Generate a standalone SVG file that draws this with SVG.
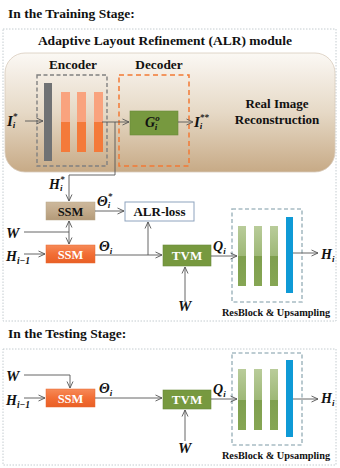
<svg xmlns="http://www.w3.org/2000/svg" width="340" height="468" viewBox="0 0 340 468">
<defs>
<style>
.ttl{font-family:"Liberation Serif","Times New Roman",serif;font-weight:bold;font-size:13.5px;fill:#111}
.lbl{font-family:"Liberation Serif","Times New Roman",serif;font-weight:bold;fill:#111}
.m{font-family:"Liberation Serif","Times New Roman",serif;font-weight:bold;font-style:italic;fill:#111}
.wt{font-family:"Liberation Serif","Times New Roman",serif;font-weight:bold;fill:#fff}
.ln{stroke:#555;stroke-width:0.9;fill:none}
.frame{fill:none;stroke:#c4ccd0;stroke-width:1;stroke-dasharray:1.5 1.5}
.rb{fill:none;stroke:#a8bcc4;stroke-width:1.6;stroke-dasharray:4 2.5}
</style>
<marker id="ah" viewBox="0 0 8 8" refX="7.5" refY="4" markerWidth="8" markerHeight="8" markerUnits="userSpaceOnUse" orient="auto-start-reverse">
<polyline points="1,1 7.5,4 1,7" fill="none" stroke="#555" stroke-width="0.9"/>
</marker>
<linearGradient id="bg" x1="0" y1="0" x2="0" y2="1">
<stop offset="0" stop-color="#fbf8f4"/>
<stop offset="0.5" stop-color="#e6d9c6"/>
<stop offset="1" stop-color="#c7aa86"/>
</linearGradient>
<linearGradient id="or" x1="0" y1="0" x2="0" y2="1">
<stop offset="0" stop-color="#f9a37e"/>
<stop offset="0.5" stop-color="#f9a37e"/>
<stop offset="0.5" stop-color="#f47a3a"/>
<stop offset="1" stop-color="#f47a3a"/>
</linearGradient>
<linearGradient id="gr" x1="0" y1="0" x2="0" y2="1">
<stop offset="0" stop-color="#b9cc9a"/>
<stop offset="0.5" stop-color="#9eb877"/>
<stop offset="0.5" stop-color="#7f9f4e"/>
<stop offset="1" stop-color="#86a654"/>
</linearGradient>
<linearGradient id="ssmT" x1="0" y1="0" x2="0" y2="1">
<stop offset="0" stop-color="#cdb89c"/>
<stop offset="0.5" stop-color="#c2ab8c"/>
<stop offset="1" stop-color="#b39a78"/>
</linearGradient>
<linearGradient id="ssmO" x1="0" y1="0" x2="0" y2="1">
<stop offset="0" stop-color="#f68a58"/>
<stop offset="0.5" stop-color="#f26e35"/>
<stop offset="1" stop-color="#e95f25"/>
</linearGradient>
</defs>

<!-- Training stage -->
<text class="ttl" x="8" y="18">In the Training Stage:</text>
<rect class="frame" x="3" y="29" width="333" height="292"/>
<text class="lbl" x="165" y="45" font-size="13.5" text-anchor="middle">Adaptive Layout  Refinement (ALR) module</text>

<g id="alr-module">
<rect x="5" y="53" width="330" height="119" rx="20" fill="url(#bg)" stroke="#d8ccbc" stroke-width="0.8"/>
<text class="lbl" x="73" y="69" font-size="13.3" text-anchor="middle">Encoder</text>
<text class="lbl" x="159" y="69" font-size="13.3" text-anchor="middle">Decoder</text>
<text class="lbl" x="277" y="108" font-size="13" text-anchor="middle">Real Image</text>
<text class="lbl" x="277" y="124" font-size="13" text-anchor="middle">Reconstruction</text>
</g>

<g id="encoder">
<rect x="37" y="75" width="70" height="91" fill="none" stroke="#808080" stroke-width="1.4" stroke-dasharray="4 2.5"/>
<rect x="44" y="83" width="8" height="78" fill="#707274"/>
<rect x="61" y="92" width="9" height="60" fill="url(#or)"/>
<rect x="77" y="92" width="9" height="60" fill="url(#or)"/>
<rect x="94" y="92" width="9" height="60" fill="url(#or)"/>
</g>

<g id="decoder">
<rect x="119" y="75" width="70" height="91" fill="none" stroke="#f27a35" stroke-width="1.5" stroke-dasharray="5 3.5"/>
<rect x="130" y="111" width="48" height="24" fill="#77993f" stroke="#6a8a3a" stroke-width="0.6"/>
<text class="m" x="145" y="127" font-size="14">G<tspan font-size="9" dy="-6">o</tspan><tspan font-size="9" dx="-5" dy="9">i</tspan></text>
</g>

<g id="ssm-top">
<rect x="46" y="202" width="49" height="18" fill="url(#ssmT)" stroke="#b8a688" stroke-width="0.5"/>
<text class="lbl" x="70.5" y="215.5" font-size="12.5" text-anchor="middle" fill="#4a3d30">SSM</text>
</g>
<g id="alr-loss">
<rect x="125" y="202" width="69" height="19" fill="#fff" stroke="#8ea3be" stroke-width="1"/>
<text class="lbl" x="159.5" y="216" font-size="13" text-anchor="middle">ALR-loss</text>
</g>
<g id="ssm-1">
<rect x="46" y="245" width="49" height="18" fill="url(#ssmO)" stroke="#e66a30" stroke-width="0.5"/>
<text class="wt" x="70.5" y="258.5" font-size="12.5" text-anchor="middle">SSM</text>
</g>
<g id="tvm-1">
<rect x="163" y="245" width="48" height="21" fill="#77993f" stroke="#6a8a3a" stroke-width="0.6"/>
<text class="wt" x="187" y="260" font-size="13" text-anchor="middle">TVM</text>
</g>
<g id="resblock-1">
<rect class="rb" x="232" y="209" width="70" height="93"/>
<rect x="238" y="226" width="8" height="60" fill="url(#gr)"/>
<rect x="254" y="226" width="8" height="60" fill="url(#gr)"/>
<rect x="270" y="226" width="8" height="60" fill="url(#gr)"/>
<rect x="286" y="217" width="7" height="76" fill="#0f9ad6"/>
<text class="lbl" x="276" y="316" font-size="10.3" text-anchor="middle">ResBlock &amp; Upsampling</text>
</g>

<!-- Training labels -->
<g id="labels-1">
<text class="m" x="7" y="126" font-size="15">I<tspan font-size="9" dy="-7">*</tspan><tspan font-size="9" dx="-4.5" dy="9">i</tspan></text>
<text class="m" x="194" y="127" font-size="15">I<tspan font-size="9" dy="-7">**</tspan><tspan font-size="9" dx="-9" dy="9">i</tspan></text>
<text class="m" x="49" y="189" font-size="14">H<tspan font-size="9" dy="-7">*</tspan><tspan font-size="9" dx="-4.5" dy="9">i</tspan></text>
<text class="m" x="97" y="206" font-size="14">Θ<tspan font-size="9" dy="-7">*</tspan><tspan font-size="9" dx="-4.5" dy="9">i</tspan></text>
<text class="m" x="6" y="238" font-size="15">W</text>
<text class="m" x="6" y="261" font-size="14">H<tspan font-size="9.5" dy="3">i−1</tspan></text>
<text class="m" x="99" y="251" font-size="14">Θ<tspan font-size="9" dy="3">i</tspan></text>
<text class="m" x="213" y="251" font-size="14">Q<tspan font-size="9" dy="3">i</tspan></text>
<text class="m" x="321" y="259" font-size="14">H<tspan font-size="9" dy="3">i</tspan></text>
<text class="m" x="178" y="311" font-size="15">W</text>
</g>

<g id="connectors-1">
<line class="ln" x1="25" y1="121" x2="43" y2="121" marker-end="url(#ah)"/>
<line class="ln" x1="102" y1="122" x2="129" y2="122" marker-end="url(#ah)"/>
<line class="ln" x1="178" y1="122" x2="193" y2="122" marker-end="url(#ah)"/>
<polyline class="ln" points="115,122 115,175 69,175 69,201" marker-end="url(#ah)"/>
<line class="ln" x1="95" y1="211" x2="124" y2="211" marker-end="url(#ah)"/>
<line class="ln" x1="69" y1="221" x2="69" y2="244" marker-start="url(#ah)" marker-end="url(#ah)"/>
<line class="ln" x1="24" y1="232" x2="69" y2="232"/>
<line class="ln" x1="24" y1="254" x2="45" y2="254" marker-end="url(#ah)"/>
<line class="ln" x1="95" y1="255" x2="162" y2="255" marker-end="url(#ah)"/>
<line class="ln" x1="148" y1="255" x2="148" y2="222" marker-end="url(#ah)"/>
<line class="ln" x1="185" y1="302" x2="185" y2="267" marker-end="url(#ah)"/>
<line class="ln" x1="211" y1="256" x2="237" y2="256" marker-end="url(#ah)"/>
<line class="ln" x1="293" y1="253" x2="318" y2="253" marker-end="url(#ah)"/>
</g>

<!-- Testing stage -->
<text class="ttl" x="8" y="338">In the Testing Stage:</text>
<rect class="frame" x="3" y="349" width="333" height="116"/>

<g id="ssm-2">
<rect x="46" y="389" width="49" height="18" fill="url(#ssmO)" stroke="#e66a30" stroke-width="0.5"/>
<text class="wt" x="70.5" y="402.5" font-size="12.5" text-anchor="middle">SSM</text>
</g>
<g id="tvm-2">
<rect x="163" y="390" width="48" height="19" fill="#77993f" stroke="#6a8a3a" stroke-width="0.6"/>
<text class="wt" x="187" y="404" font-size="13" text-anchor="middle">TVM</text>
</g>
<g id="resblock-2">
<rect class="rb" x="232" y="353" width="70" height="92"/>
<rect x="238" y="369" width="8" height="61" fill="url(#gr)"/>
<rect x="254" y="369" width="8" height="61" fill="url(#gr)"/>
<rect x="270" y="369" width="8" height="61" fill="url(#gr)"/>
<rect x="286" y="360" width="7" height="77" fill="#0f9ad6"/>
<text class="lbl" x="276" y="459" font-size="10.3" text-anchor="middle">ResBlock &amp; Upsampling</text>
</g>

<g id="labels-2">
<text class="m" x="6" y="381" font-size="15">W</text>
<text class="m" x="6" y="405" font-size="14">H<tspan font-size="9.5" dy="3">i−1</tspan></text>
<text class="m" x="99" y="393" font-size="14">Θ<tspan font-size="9" dy="3">i</tspan></text>
<text class="m" x="213" y="394" font-size="14">Q<tspan font-size="9" dy="3">i</tspan></text>
<text class="m" x="321" y="403" font-size="14">H<tspan font-size="9" dy="3">i</tspan></text>
<text class="m" x="178" y="453" font-size="15">W</text>
</g>

<g id="connectors-2">
<polyline class="ln" points="24,375 70,375 70,388" marker-end="url(#ah)"/>
<line class="ln" x1="24" y1="398" x2="45" y2="398" marker-end="url(#ah)"/>
<line class="ln" x1="95" y1="398" x2="162" y2="398" marker-end="url(#ah)"/>
<line class="ln" x1="185" y1="441" x2="185" y2="410" marker-end="url(#ah)"/>
<line class="ln" x1="211" y1="399" x2="237" y2="399" marker-end="url(#ah)"/>
<line class="ln" x1="293" y1="399" x2="318" y2="399" marker-end="url(#ah)"/>
</g>
</svg>
